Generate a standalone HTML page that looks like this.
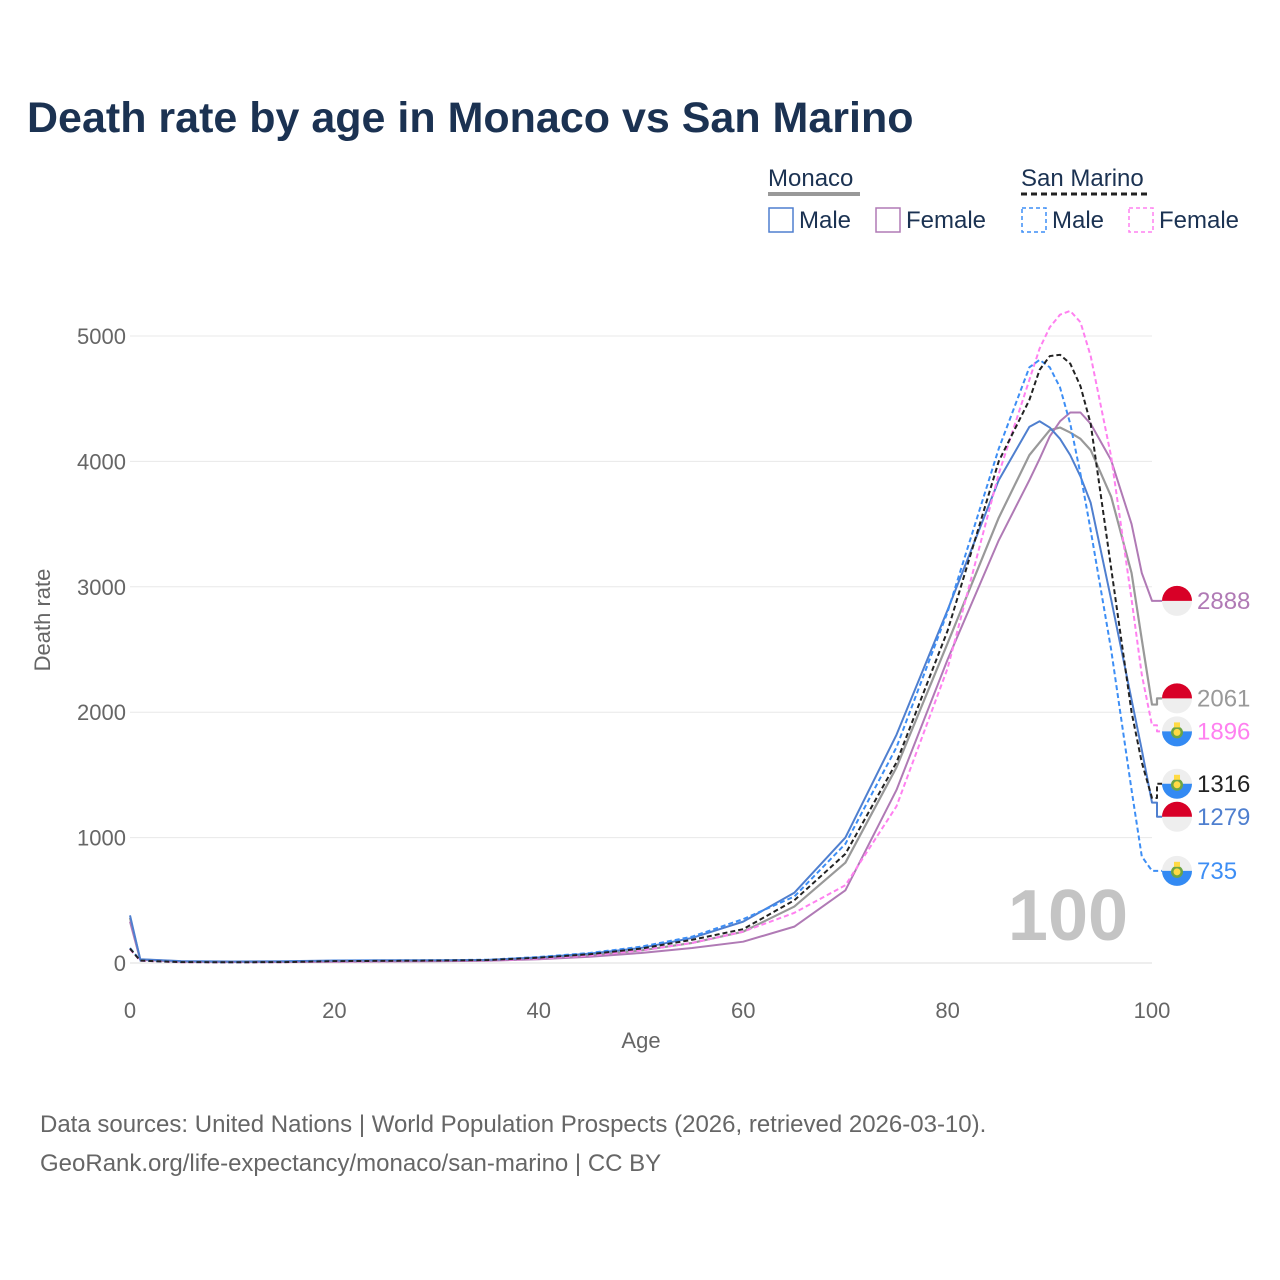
<!DOCTYPE html>
<html><head><meta charset="utf-8"><style>
body{margin:0;background:#fff;font-family:"Liberation Sans",sans-serif;}
#wrap{position:relative;width:1280px;height:1280px;overflow:hidden;}
</style></head><body>
<div id="wrap">
<svg id="chart" width="1280" height="1280" font-family="Liberation Sans, sans-serif">
<text x="27" y="132" font-size="43" font-weight="bold" fill="#1b3252">Death rate by age in Monaco vs San Marino</text>
<g>
<text x="768" y="186" font-size="24" fill="#1b3252">Monaco</text>
<line x1="768" y1="194" x2="860" y2="194" stroke="#999" stroke-width="4"/>
<text x="1021" y="186" font-size="24" fill="#1b3252">San Marino</text>
<line x1="1021" y1="194" x2="1150" y2="194" stroke="#222" stroke-width="3" stroke-dasharray="6,4"/>
<g><rect x="769" y="208" width="24" height="24" fill="none" stroke="#4f7fcf" stroke-width="1.5"/><text x="799" y="228" font-size="24" fill="#1b3252">Male</text></g>
<g><rect x="876" y="208" width="24" height="24" fill="none" stroke="#b07ab5" stroke-width="1.5"/><text x="906" y="228" font-size="24" fill="#1b3252">Female</text></g>
<g><rect x="1022" y="208" width="24" height="24" fill="none" stroke="#3d8ef5" stroke-width="1.5" stroke-dasharray="4,3"/><text x="1052" y="228" font-size="24" fill="#1b3252">Male</text></g>
<g><rect x="1129" y="208" width="24" height="24" fill="none" stroke="#ff80f0" stroke-width="1.5" stroke-dasharray="4,3"/><text x="1159" y="228" font-size="24" fill="#1b3252">Female</text></g>
</g>
<g id="grid"></g>
<text x="1068" y="940" font-size="72" font-weight="bold" fill="#c4c4c4" text-anchor="middle">100</text>
<g id="series"></g>
<g id="labels"></g>
<text x="641" y="1048" font-size="22" fill="#666" text-anchor="middle">Age</text>
<text transform="translate(50,620) rotate(-90)" font-size="22" fill="#666" text-anchor="middle">Death rate</text>
<text x="40" y="1132" font-size="24" fill="#666">Data sources: United Nations | World Population Prospects (2026, retrieved 2026-03-10).</text>
<text x="40" y="1171" font-size="24" fill="#666">GeoRank.org/life-expectancy/monaco/san-marino | CC BY</text>
</svg>
</div>
<script>
const ages = [0,1,5,10,15,20,25,30,35,40,45,50,55,60,65,70,75,80,85,88,89,90,91,92,93,94,96,98,99,100];
const monacoMale =   [380,30,15,12,14,20,22,22,25,45,75,120,200,330,560,1000,1820,2815,3850,4275,4320,4270,4180,4050,3880,3670,2900,2100,1700,1279];
const monacoFemale = [330,25,10,8,8,10,12,14,18,30,50,80,120,170,290,580,1380,2420,3370,3850,4020,4200,4320,4390,4390,4300,4010,3500,3110,2888];
const monacoTotal =  [360,28,12,10,11,15,17,18,22,38,62,100,160,250,450,800,1560,2550,3550,4050,4150,4250,4270,4230,4180,4090,3720,3110,2580,2061];
const smMale =       [120,20,8,6,8,18,20,22,26,48,80,130,210,350,530,950,1720,2800,4100,4750,4810,4750,4590,4300,3900,3450,2500,1380,850,735];
const smFemale =     [110,18,6,5,6,12,14,16,20,36,60,100,160,250,400,620,1250,2350,3900,4650,4900,5070,5170,5200,5110,4840,4040,2900,2300,1896];
const smTotal =      [115,19,7,6,7,15,17,19,23,42,70,115,185,270,500,870,1600,2650,4000,4490,4730,4840,4850,4780,4600,4300,3150,2000,1600,1316];
const yTicks = [0,1000,2000,3000,4000,5000];
const xTicks = [0,20,40,60,80,100];

const X = a => 130 + a*10.22;
const Y = v => 963 - v*0.1254;
const NS = 'http://www.w3.org/2000/svg';
function mk(tag, attrs, parent){const e=document.createElementNS(NS,tag);for(const k in attrs)e.setAttribute(k,attrs[k]);parent.appendChild(e);return e;}
const grid=document.getElementById('grid');
yTicks.forEach(t=>{
  const l=mk('line',{x1:130,x2:1152,y1:Y(t),y2:Y(t),stroke:t===0?'#ddd':'#e8e8e8','stroke-width':1},grid);
  
  
  const tx=mk('text',{x:126,y:Y(t)+8,'font-size':22,fill:'#666','text-anchor':'end'},grid);
  tx.textContent=t;
  
  
});
xTicks.forEach(t=>{
  const tx=mk('text',{x:X(t),y:1018,'font-size':22,fill:'#666','text-anchor':'middle'},grid);
  tx.textContent=t;
  
  
});
const series=[
 {name:'monaco-total',vals:monacoTotal,color:'#999',dash:null,w:2.2,flag:'mc'},
 {name:'monaco-female',vals:monacoFemale,color:'#b07ab5',dash:null,w:2,flag:'mc'},
 {name:'monaco-male',vals:monacoMale,color:'#4f7fcf',dash:null,w:2,flag:'mc'},
 {name:'san-marino-female',vals:smFemale,color:'#ff80f0',dash:'5,3',w:2,flag:'sm'},
 {name:'san-marino-male',vals:smMale,color:'#3d8ef5',dash:'5,3',w:2,flag:'sm'},
 {name:'san-marino-total',vals:smTotal,color:'#222',dash:'5,3',w:2,flag:'sm'}
];
const ends=series.map((s,i)=>({i,y:Y(s.vals[s.vals.length-1])})).sort((a,b)=>a.y-b.y);
for(let it=0;it<50;it++){for(let k=1;k<ends.length;k++){const d=ends[k].y-ends[k-1].y;if(d<33){const m=(33-d)/2;ends[k].y+=m;ends[k-1].y-=m;}}}
const ly={};ends.forEach(e=>ly[e.i]=e.y);
const sg=document.getElementById('series'), lg=document.getElementById('labels');
series.forEach((s,i)=>{
  const pts=ages.map((a,j)=>X(a)+','+Y(s.vals[j]));
  const endY=Y(s.vals[s.vals.length-1]);
  pts.push('1157,'+endY,'1157,'+ly[i],'1163,'+ly[i]);
  const p=mk('polyline',{points:pts.join(' '),fill:'none',stroke:s.color,'stroke-width':s.w,'stroke-linejoin':'round'},sg);
  if(s.dash)p.setAttribute('stroke-dasharray',s.dash);
  
  
  const g=mk('g',{},lg);
  
  
  const cx=1177,cy=ly[i];
  if(s.flag==='mc'){
    mk('circle',{cx,cy,r:15,fill:'#eee'},g);
    mk('path',{d:`M${cx-15},${cy} A15,15 0 0 1 ${cx+15},${cy} Z`,fill:'#d80027'},g);
  } else {
    mk('circle',{cx,cy,r:15,fill:'#eee'},g);
    mk('path',{d:`M${cx-15},${cy} A15,15 0 0 0 ${cx+15},${cy} Z`,fill:'#338af3'},g);
    mk('circle',{cx,cy:cy+1,r:6,fill:'#6da544'},g);
    mk('circle',{cx,cy:cy+1,r:3.5,fill:'#ffda44'},g);
    mk('rect',{x:cx-3,y:cy-9,width:6,height:5,fill:'#ffda44'},g);
  }
  const t=mk('text',{x:1197,y:cy+8,'font-size':24,fill:s.color},g);
  t.textContent=s.vals[s.vals.length-1];
});
</script>
</body></html>
